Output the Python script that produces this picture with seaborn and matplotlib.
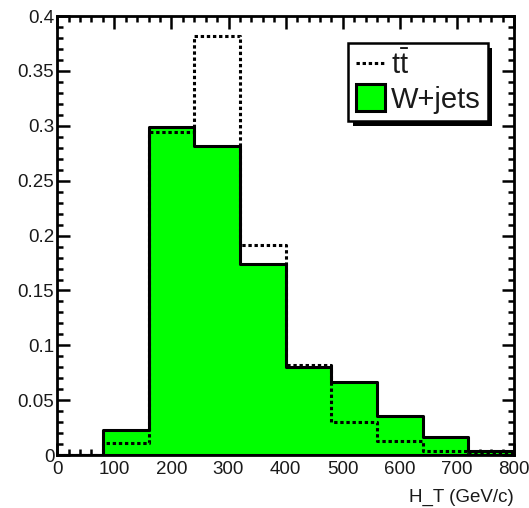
import matplotlib
matplotlib.use("Agg")
import matplotlib.pyplot as plt
import matplotlib.ticker as mticker
import matplotlib.patheffects as pe
from matplotlib.lines import Line2D
from matplotlib.patches import Patch
import numpy as np
import seaborn as sns

# ---- data ----
bin_edges = [0, 80, 160, 240, 320, 400, 480, 560, 640, 720, 800]
wjets = [0.0, 0.023, 0.299, 0.282, 0.174, 0.080, 0.067, 0.036, 0.017, 0.004]
ttbar = [0.0, 0.011, 0.294, 0.382, 0.191, 0.082, 0.030, 0.013, 0.004, 0.002]
x_ticks = [0, 100, 200, 300, 400, 500, 600, 700, 800]
x_ticklabels = ["0", "100", "200", "300", "400", "500", "600", "700", "800"]
y_ticks = [0, 0.05, 0.1, 0.15, 0.2, 0.25, 0.3, 0.35, 0.4]
y_ticklabels = ["0", "0.05", "0.1", "0.15", "0.2", "0.25", "0.3", "0.35", "0.4"]
labels = [r"$\mathrm{t\bar{t}}$", "W+jets"]
xlabel = "H_T (GeV/c)"

sns.set_style("ticks")
plt.rcParams["font.family"] = ["Liberation Sans", "DejaVu Sans"]
plt.rcParams["mathtext.fontset"] = "custom"
plt.rcParams["mathtext.rm"] = "Liberation Sans"
plt.rcParams["mathtext.it"] = "Liberation Sans:italic"

centers = [(a + b) / 2 for a, b in zip(bin_edges[:-1], bin_edges[1:])]

fig = plt.figure(figsize=(5.29, 5.08), dpi=100)
ax = fig.add_axes([0.108, 0.104, 0.864, 0.8645])

sns.histplot(x=centers, weights=wjets, bins=bin_edges, element="step",
             fill=True, color="#00ff00", alpha=1.0, edgecolor="black",
             linewidth=2.2, ax=ax, zorder=2)
sns.histplot(x=centers, weights=ttbar, bins=bin_edges, element="step",
             fill=False, color="black", linewidth=2.2, linestyle=(0, (1.1, 0.9)),
             ax=ax, zorder=3)

ax.set_xlim(0, 800)
ax.set_ylim(0, 0.4)
ax.set_xticks(x_ticks)
ax.set_xticklabels(x_ticklabels)
ax.set_yticks(y_ticks)
ax.set_yticklabels(y_ticklabels)
ax.xaxis.set_minor_locator(mticker.MultipleLocator(20))
ax.yaxis.set_minor_locator(mticker.MultipleLocator(0.01))

ax.tick_params(which="both", direction="in", top=True, right=True,
               width=1.8, color="black", labelcolor="#1a1a1a")
ax.tick_params(which="major", length=9, labelsize=13.5)
ax.tick_params(which="minor", length=4.5)
ax.tick_params(axis="y", which="major", pad=2)
ax.tick_params(axis="x", which="major", pad=4)

for sp in ax.spines.values():
    sp.set_linewidth(2.0)
    sp.set_color("black")
    sp.set_zorder(5)

ax.set_ylabel("")
ax.set_xlabel(xlabel, fontsize=13.5, color="#1a1a1a", loc="right", labelpad=8)

handles = [Line2D([0], [0], color="black", linewidth=2.2, linestyle=(0, (1.1, 0.9))),
           Patch(facecolor="#00ff00", edgecolor="black", linewidth=2.2)]
leg = ax.legend(handles, labels, loc="upper left", bbox_to_anchor=(0.637, 0.938),
                borderaxespad=0, fontsize=21, frameon=True, fancybox=False,
                shadow=False, framealpha=1,
                edgecolor="black", borderpad=0.25, labelspacing=0.15,
                handlelength=1.0, handleheight=1.0, handletextpad=0.2)
frame = leg.get_frame()
frame.set_linewidth(1.8)
frame.set_path_effects([pe.SimplePatchShadow(offset=(3.5, -3.5), shadow_rgbFace="black", alpha=1.0),
                        pe.Normal()])
for t in leg.get_texts():
    t.set_color("#1a1a1a")

fig.savefig("out.png", dpi=100)
